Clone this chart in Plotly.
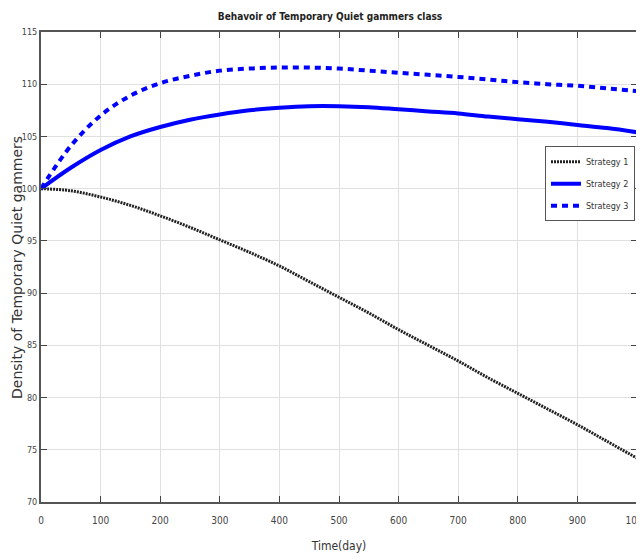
import plotly.graph_objects as go

time_days = [0, 50, 100, 150, 200, 250, 300, 350, 400, 450, 500,
             550, 600, 650, 700, 750, 800, 850, 900, 950, 1000]
strategy1 = [100.0, 99.8, 99.2, 98.4, 97.4, 96.3, 95.1, 93.9, 92.6, 91.1, 89.6,
             88.1, 86.5, 85.0, 83.5, 81.9, 80.4, 78.9, 77.4, 75.8, 74.2]
strategy2 = [100.0, 102.0, 103.7, 105.0, 105.9, 106.6, 107.1, 107.5, 107.75, 107.9, 107.9,
             107.8, 107.6, 107.4, 107.2, 106.9, 106.65, 106.4, 106.1, 105.8, 105.4]
strategy3 = [100.0, 104.1, 107.0, 108.9, 110.1, 110.8, 111.3, 111.5, 111.6, 111.6, 111.5,
             111.3, 111.1, 110.9, 110.7, 110.45, 110.2, 110.0, 109.85, 109.6, 109.35]
x_ticks = [0, 100, 200, 300, 400, 500, 600, 700, 800, 900, 1000]
y_ticks = [70, 75, 80, 85, 90, 95, 100, 105, 110, 115]

NARROW = "DejaVu Sans Condensed, Liberation Sans Narrow, Arial Narrow, sans-serif"

fig = go.Figure()
fig.add_trace(go.Scatter(x=time_days, y=strategy1, mode="lines", name="Strategy 1",
                         legendgroup="s1",
                         line=dict(color="#222222", width=3, dash="2px,1px", shape="spline")))
fig.add_trace(go.Scatter(x=time_days, y=strategy2, mode="lines", name="Strategy 2",
                         legendgroup="s2",
                         line=dict(color="#0000ff", width=4, shape="spline")))
fig.add_trace(go.Scatter(x=time_days, y=strategy3, mode="lines", name="Strategy 3",
                         legendgroup="s3",
                         line=dict(color="#0000ff", width=4, dash="6px,5px", shape="spline")))

axis_common = dict(showline=True, linecolor="#555555", linewidth=2, mirror="ticks",
                   ticks="inside", ticklen=6, tickcolor="#444444", tickwidth=1,
                   showgrid=True, gridcolor="#e0e0e0", gridwidth=1, zeroline=False,
                   automargin=False)

fig.update_layout(
    width=644, height=560,
    paper_bgcolor="white", plot_bgcolor="white",
    margin=dict(l=33, r=15, t=24, b=66),
    title=dict(text="<b>Behavoir of Temporary Quiet gammers class</b>",
               x=0.5, xanchor="center", y=0.984, yanchor="middle",
               font=dict(family=NARROW, size=10, color="#222222")),
    xaxis=dict(range=[0, 1000], tickvals=x_ticks, ticklabelstandoff=8, **axis_common,
               tickfont=dict(family=NARROW, size=10, color="#444444"),
               title=dict(text="Time(day)", standoff=17,
                          font=dict(family=NARROW, size=12, color="#333333"))),
    yaxis=dict(range=[70, 115], tickvals=y_ticks, **axis_common,
               tickfont=dict(family=NARROW, size=9, color="#444444")),
    legend=dict(x=0.9966, xanchor="right", y=0.757, yanchor="top",
                bgcolor="white", bordercolor="#555555", borderwidth=1,
                font=dict(family=NARROW, size=9, color="#333333"),
                tracegroupgap=3, itemwidth=30),
    showlegend=True,
    annotations=[dict(text="Density of Temporary Quiet gammers",
                      xref="paper", yref="paper", x=-0.0403, y=0.5,
                      xanchor="center", yanchor="middle", textangle=-90,
                      showarrow=False,
                      font=dict(family="DejaVu Sans, sans-serif", size=14, color="#333333"))],
)

fig.write_html("out.html")
